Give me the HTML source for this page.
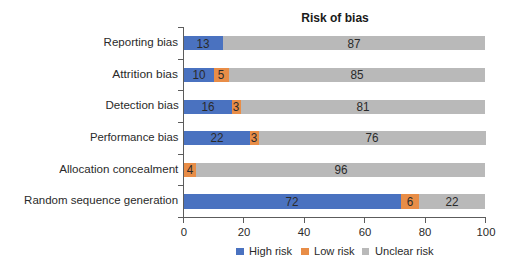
<!DOCTYPE html>
<html><head><meta charset="utf-8"><style>
html,body{margin:0;padding:0;background:#fff;}
body{width:520px;height:270px;position:relative;overflow:hidden;font-family:"Liberation Sans",sans-serif;color:#1a1a1a;}
.b{position:absolute;}
.t{position:absolute;white-space:nowrap;font-size:11.8px;line-height:16px;height:16px;color:#2a2a2a;}
.lab{text-align:right;right:341.6px;transform-origin:100% 50%;}
.v{text-align:center;transform:translateX(-50%) scaleX(0.96);font-size:12.2px;}
.ln{position:absolute;background:#5c5c5c;}
</style></head><body>

<div class="t" style="left:335px;top:9.6px;font-weight:bold;font-size:13.7px;transform:translateX(-50%) scaleX(0.88);color:#1a1a1a">Risk of bias</div>
<div class="t lab" style="top:34.21px;transform:scaleX(0.979)">Reporting bias</div>
<div class="b" style="left:183.50px;top:36.31px;width:39.26px;height:14.2px;background:#4a72c0"></div>
<div class="t v" style="left:203.13px;top:35.51px">13</div>
<div class="b" style="left:222.76px;top:36.31px;width:262.74px;height:14.2px;background:#b9b9b9"></div>
<div class="t v" style="left:354.13px;top:35.51px">87</div>
<div class="t lab" style="top:65.83px;transform:scaleX(1.011)">Attrition bias</div>
<div class="b" style="left:183.50px;top:67.93px;width:30.20px;height:14.2px;background:#4a72c0"></div>
<div class="t v" style="left:198.60px;top:67.13px">10</div>
<div class="b" style="left:213.70px;top:67.93px;width:15.10px;height:14.2px;background:#e88d47"></div>
<div class="t v" style="left:221.25px;top:67.13px">5</div>
<div class="b" style="left:228.80px;top:67.93px;width:256.70px;height:14.2px;background:#b9b9b9"></div>
<div class="t v" style="left:357.15px;top:67.13px">85</div>
<div class="t lab" style="top:97.45px;transform:scaleX(0.981)">Detection bias</div>
<div class="b" style="left:183.50px;top:99.55px;width:48.32px;height:14.2px;background:#4a72c0"></div>
<div class="t v" style="left:207.66px;top:98.75px">16</div>
<div class="b" style="left:231.82px;top:99.55px;width:9.06px;height:14.2px;background:#e88d47"></div>
<div class="t v" style="left:236.35px;top:98.75px">3</div>
<div class="b" style="left:240.88px;top:99.55px;width:244.62px;height:14.2px;background:#b9b9b9"></div>
<div class="t v" style="left:363.19px;top:98.75px">81</div>
<div class="t lab" style="top:129.07px;transform:scaleX(0.958)">Performance bias</div>
<div class="b" style="left:183.50px;top:131.17px;width:66.44px;height:14.2px;background:#4a72c0"></div>
<div class="t v" style="left:216.72px;top:130.37px">22</div>
<div class="b" style="left:249.94px;top:131.17px;width:9.06px;height:14.2px;background:#e88d47"></div>
<div class="t v" style="left:254.47px;top:130.37px">3</div>
<div class="b" style="left:259.00px;top:131.17px;width:226.50px;height:14.2px;background:#b9b9b9"></div>
<div class="t v" style="left:372.25px;top:130.37px">76</div>
<div class="t lab" style="top:160.69px;transform:scaleX(0.982)">Allocation concealment</div>
<div class="b" style="left:183.50px;top:162.79px;width:12.08px;height:14.2px;background:#e88d47"></div>
<div class="t v" style="left:189.54px;top:161.99px">4</div>
<div class="b" style="left:195.58px;top:162.79px;width:289.92px;height:14.2px;background:#b9b9b9"></div>
<div class="t v" style="left:340.54px;top:161.99px">96</div>
<div class="t lab" style="top:192.31px;transform:scaleX(0.974)">Random sequence generation</div>
<div class="b" style="left:183.50px;top:194.41px;width:217.44px;height:14.2px;background:#4a72c0"></div>
<div class="t v" style="left:292.22px;top:193.61px">72</div>
<div class="b" style="left:400.94px;top:194.41px;width:18.12px;height:14.2px;background:#e88d47"></div>
<div class="t v" style="left:410.00px;top:193.61px">6</div>
<div class="b" style="left:419.06px;top:194.41px;width:66.44px;height:14.2px;background:#b9b9b9"></div>
<div class="t v" style="left:452.28px;top:193.61px">22</div>
<div class="ln" style="left:183.0px;top:27.1px;width:1px;height:190.22px"></div>
<div class="ln" style="left:183.0px;top:216.82px;width:303.00px;height:1px"></div>
<div class="ln" style="left:178.0px;top:27.10px;width:5px;height:1px"></div>
<div class="ln" style="left:178.0px;top:58.72px;width:5px;height:1px"></div>
<div class="ln" style="left:178.0px;top:90.34px;width:5px;height:1px"></div>
<div class="ln" style="left:178.0px;top:121.96px;width:5px;height:1px"></div>
<div class="ln" style="left:178.0px;top:153.58px;width:5px;height:1px"></div>
<div class="ln" style="left:178.0px;top:185.20px;width:5px;height:1px"></div>
<div class="ln" style="left:178.0px;top:216.82px;width:5px;height:1px"></div>
<div class="ln" style="left:183.00px;top:217.32px;width:1px;height:5.5px"></div>
<div class="t v" style="left:183.50px;top:223.8px;font-size:11.8px">0</div>
<div class="ln" style="left:243.40px;top:217.32px;width:1px;height:5.5px"></div>
<div class="t v" style="left:243.90px;top:223.8px;font-size:11.8px">20</div>
<div class="ln" style="left:303.80px;top:217.32px;width:1px;height:5.5px"></div>
<div class="t v" style="left:304.30px;top:223.8px;font-size:11.8px">40</div>
<div class="ln" style="left:364.20px;top:217.32px;width:1px;height:5.5px"></div>
<div class="t v" style="left:364.70px;top:223.8px;font-size:11.8px">60</div>
<div class="ln" style="left:424.60px;top:217.32px;width:1px;height:5.5px"></div>
<div class="t v" style="left:425.10px;top:223.8px;font-size:11.8px">80</div>
<div class="ln" style="left:485.00px;top:217.32px;width:1px;height:5.5px"></div>
<div class="t v" style="left:485.50px;top:223.8px;font-size:11.8px">100</div>
<div class="b" style="left:236px;top:247.5px;width:7.5px;height:7.5px;background:#4a72c0"></div>
<div class="t" style="left:249px;top:243px;transform:scaleX(0.94);transform-origin:0 50%">High risk</div>
<div class="b" style="left:301px;top:247.5px;width:7.5px;height:7.5px;background:#e88d47"></div>
<div class="t" style="left:313.7px;top:243px;transform:scaleX(0.94);transform-origin:0 50%">Low risk</div>
<div class="b" style="left:361.7px;top:247.5px;width:7.5px;height:7.5px;background:#b9b9b9"></div>
<div class="t" style="left:374.6px;top:243px;transform:scaleX(0.94);transform-origin:0 50%">Unclear risk</div>
</body></html>
